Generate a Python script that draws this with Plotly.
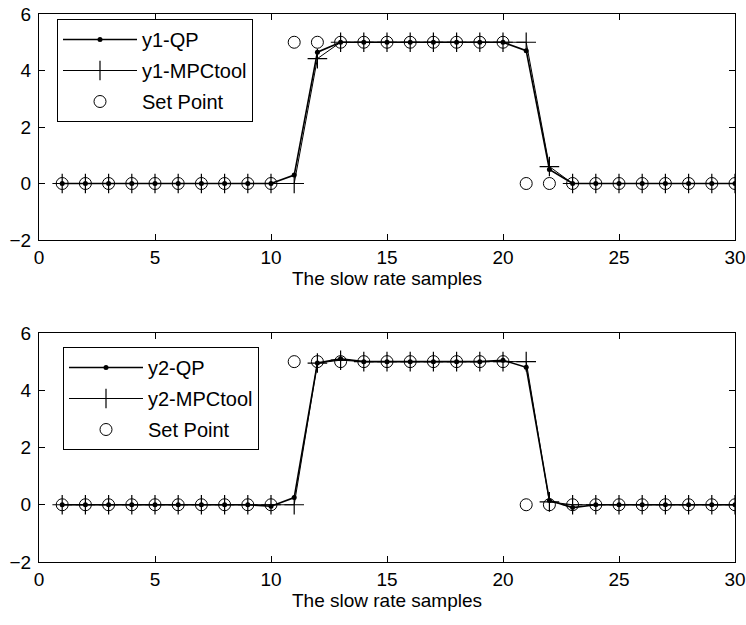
import plotly.graph_objects as go

samples = list(range(1, 31))
y1_qp = [0]*10 + [0.3, 4.65, 5.0, 5.0, 5.0, 5.0, 5.0, 5.0, 5.0, 5.0, 4.7, 0.5] + [0]*8
y1_mpc = [0]*10 + [0.0, 4.42, 5.0, 5.0, 5.0, 5.0, 5.0, 5.0, 5.0, 5.0, 5.0, 0.6] + [0]*8
y2_qp = [0]*9 + [-0.05, 0.25, 4.95, 5.1, 5.0, 5.0, 5.0, 5.0, 5.0, 5.0, 5.05, 4.8, 0.15, -0.1] + [0]*7
y2_mpc = [0]*10 + [0.0, 4.95, 5.05, 5.0, 5.0, 5.0, 5.0, 5.0, 5.0, 5.0, 5.0, 0.1, 0.0] + [0]*7
set_point = [0]*10 + [5]*10 + [0]*10

x_ticks = [0, 5, 10, 15, 20, 25, 30]
y_ticks = [-2, 0, 2, 4, 6]
x_title = "The slow rate samples"

FONT = "Liberation Sans, Arial, sans-serif"
FS = 19
fig = go.Figure()

def add_set(yq, ym, nq, nm, xa, ya, leg):
    fig.add_trace(go.Scatter(x=samples, y=set_point, mode="markers", name="Set Point",
                             marker=dict(symbol="circle-open", size=12, color="black", line=dict(width=1)),
                             xaxis=xa, yaxis=ya, legend=leg, legendgroup=leg+"c", legendrank=3))
    fig.add_trace(go.Scatter(x=samples, y=ym, mode="lines+markers", name=nm,
                             line=dict(color="black", width=1),
                             marker=dict(symbol="cross-thin", size=14, color="black", line=dict(width=1.2, color="black")),
                             xaxis=xa, yaxis=ya, legend=leg, legendgroup=leg+"b", legendrank=2))
    fig.add_trace(go.Scatter(x=samples, y=yq, mode="lines+markers", name=nq,
                             line=dict(color="black", width=1.6),
                             marker=dict(symbol="circle", size=5, color="black"),
                             xaxis=xa, yaxis=ya, legend=leg, legendgroup=leg+"a", legendrank=1))

add_set(y1_qp, y1_mpc, "y1-QP", "y1-MPCtool", "x", "y", "legend")
add_set(y2_qp, y2_mpc, "y2-QP", "y2-MPCtool", "x2", "y2", "legend2")

axis_common = dict(showline=True, linecolor="black", linewidth=1, mirror="allticks",
                   ticks="inside", ticklen=6, tickcolor="black", showgrid=False, zeroline=False,
                   automargin=False, tickfont=dict(family=FONT, size=FS, color="black"))
xdom = [39/746, 735/746]
leg_common = dict(xanchor="left", yanchor="top", bordercolor="black", borderwidth=1,
                  bgcolor="white", traceorder="grouped", tracegroupgap=2, itemwidth=74,
                  font=dict(family=FONT, size=20))
fig.update_layout(
    width=746, height=625, margin=dict(l=0, r=0, t=0, b=0, autoexpand=False),
    paper_bgcolor="white", plot_bgcolor="white",
    font=dict(family=FONT, size=FS, color="black"),
    xaxis=dict(domain=xdom, range=[0, 30], tickvals=x_ticks, anchor="y",
               title=dict(text=x_title, standoff=0, font=dict(size=FS)), **axis_common),
    yaxis=dict(domain=[1-240/625, 1-14/625], range=[-2, 6], tickvals=y_ticks, anchor="x",
               ticklabelstandoff=3, **axis_common),
    xaxis2=dict(domain=xdom, range=[0, 30], tickvals=x_ticks, anchor="y2",
                title=dict(text=x_title, standoff=0, font=dict(size=FS)), **axis_common),
    yaxis2=dict(domain=[1-562/625, 1-333/625], range=[-2, 6], tickvals=y_ticks, anchor="x2",
                ticklabelstandoff=3, **axis_common),
    legend=dict(x=57/746, y=1-19/625, **leg_common),
    legend2=dict(x=63/746, y=1-347/625, **leg_common),
    showlegend=True,
)
fig.write_html("out.html")
